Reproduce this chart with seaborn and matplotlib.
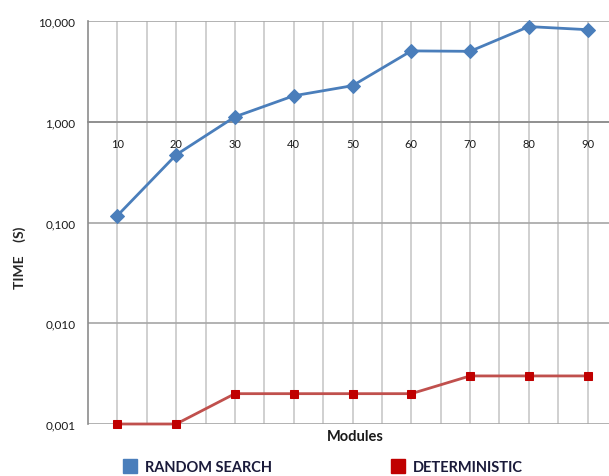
import matplotlib
matplotlib.use('Agg')
import matplotlib.pyplot as plt
import seaborn as sns
import pandas as pd
from matplotlib.ticker import FixedLocator, FuncFormatter, NullLocator
from matplotlib.lines import Line2D

# data
modules = ['10', '20', '30', '40', '50', '60', '70', '80', '90']
random_search = [0.117, 0.47, 1.12, 1.81, 2.28, 5.05, 5.0, 8.8, 8.2]
deterministic = [0.001, 0.001, 0.002, 0.002, 0.002, 0.002, 0.003, 0.003, 0.003]

df = pd.DataFrame({'Modules': modules, 'RANDOM SEARCH': random_search,
                   'DETERMINISTIC': deterministic})

sns.set_style('white')
plt.rcParams['font.family'] = ['Lato', 'DejaVu Sans']

fig = plt.figure(figsize=(6.09, 4.77), dpi=100)
ax = fig.add_axes([88 / 609, 52 / 477, 529 / 609, 403 / 477])

blue = '#4A7EBB'
red_line = '#C0504D'
red_mark = '#C00000'

pos = list(range(len(modules)))
sns.lineplot(x=pos, y=df['RANDOM SEARCH'], ax=ax, color=blue, lw=2,
             marker='D', markersize=7, markeredgecolor=blue, markerfacecolor=blue,
             zorder=5, clip_on=False)
sns.lineplot(x=pos, y=df['DETERMINISTIC'], ax=ax, color=red_line, lw=2,
             marker='s', markersize=6, markeredgecolor=red_mark, markerfacecolor=red_mark,
             zorder=5, clip_on=False)

ax.set_yscale('log')
ax.set_ylim(0.001, 10)
ax.set_xlim(-0.5, 8.5)
ax.yaxis.set_major_locator(FixedLocator([0.001, 0.01, 0.1, 1, 10]))
ax.yaxis.set_minor_locator(NullLocator())
ax.yaxis.set_major_formatter(FuncFormatter(lambda v, p: f'{v:.3f}'.replace('.', ',')))

ax.xaxis.set_major_locator(FixedLocator(pos))
ax.xaxis.set_minor_locator(FixedLocator([p + 0.5 for p in pos[:-1]]))
ax.set_xticklabels(modules)

# grid
ax.grid(True, which='major', axis='y', color='#A6A6A6', lw=1.2)
ax.grid(True, which='both', axis='x', color='#C8C8C8', lw=1.2)
ax.set_axisbelow(True)

# x axis crossing at 1
for s in ['top', 'right']:
    ax.spines[s].set_visible(False)
ax.spines['bottom'].set_position(('data', 1))
ax.spines['bottom'].set_color('#8C8C8C')
ax.spines['bottom'].set_linewidth(1.2)
ax.spines['left'].set_color('#8C8C8C')
ax.spines['left'].set_linewidth(1.2)

ax.tick_params(axis='x', which='major', length=0, pad=12, labelsize=8, labelcolor='#1a1a1a')
ax.tick_params(axis='x', which='minor', length=5, width=1.2, color='#8C8C8C', direction='out')
ax.tick_params(axis='y', which='major', length=5, width=1.2, color='#8C8C8C', direction='out',
               labelsize=8.5, labelcolor='#1a1a1a', pad=4)

ax.set_xlabel('')
ax.set_ylabel('TIME    (S)', fontsize=10, fontweight='bold')
ax.yaxis.set_label_coords(-0.118, 0.415)
fig.text(355 / 609, 1 - 437 / 477, 'Modules', ha='center', va='center',
         fontsize=10.5, fontweight='bold', color='#1a1a1a')

handles = [Line2D([], [], ls='none', marker='s', markersize=10, color=blue),
           Line2D([], [], ls='none', marker='s', markersize=10, color=red_mark)]
leg = fig.legend(handles, ['RANDOM SEARCH', 'DETERMINISTIC'], loc='center',
                 bbox_to_anchor=(319 / 609, 1 - 468 / 477), ncol=2, frameon=False,
                 handletextpad=0.05, columnspacing=7.6,
                 prop={'size': 10.5, 'weight': 'bold'})
for t in leg.get_texts():
    t.set_color('#1a1a3a')

fig.savefig('out.png', dpi=100)
